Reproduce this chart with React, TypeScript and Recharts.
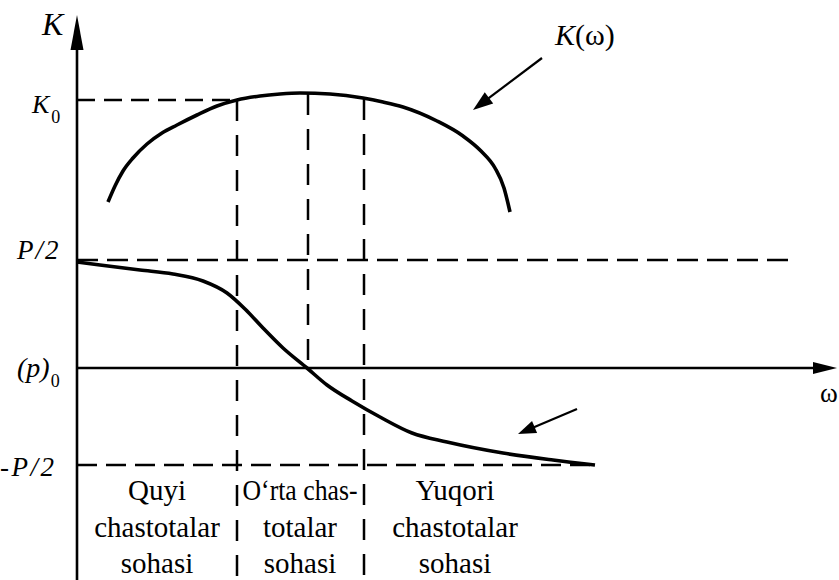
import React from "react";
import {
  ComposedChart,
  Line,
  XAxis,
  YAxis,
  ReferenceLine,
  ReferenceDot,
} from "recharts";

// Amplitude response K(ω), read along ω from the axis origin
const kCurve = [
  { w: 31, v: 166 }, { w: 38, v: 182 }, { w: 46, v: 197 }, { w: 56, v: 210 },
  { w: 70, v: 224 }, { w: 85, v: 235 }, { w: 100, v: 243 }, { w: 120, v: 253 },
  { w: 140, v: 262 }, { w: 160, v: 268 }, { w: 183, v: 272 }, { w: 203, v: 274 },
  { w: 223, v: 275 }, { w: 253, v: 274 }, { w: 286, v: 270 }, { w: 306, v: 266 },
  { w: 326, v: 261 }, { w: 360, v: 247 }, { w: 386, v: 232 }, { w: 404, v: 217 },
  { w: 418, v: 200 }, { w: 427, v: 180 }, { w: 433, v: 156 },
];

// Phase response, from P/2 down towards -P/2
const phaseCurve = [
  { w: 0, v: 106 }, { w: 23, v: 103 }, { w: 63, v: 98 }, { w: 96, v: 94 },
  { w: 126, v: 87 }, { w: 150, v: 75 }, { w: 168, v: 59 }, { w: 186, v: 40 },
  { w: 206, v: 20 }, { w: 230, v: 0 }, { w: 250, v: -17 }, { w: 275, v: -33 },
  { w: 303, v: -49 }, { w: 335, v: -65 }, { w: 370, v: -74 }, { w: 426, v: -85 },
  { w: 476, v: -92 }, { w: 518, v: -97 },
];

const K0 = 268;
const P_HALF = 108;
const NEG_P_HALF = -97;
const P_HALF_END = 711;

// Band edges on ω, plus the centre marker of the middle band
const bandEdges = [160, 287];
const bandEdgeTops = [268, 269];
const midMarker = 231;
const midMarkerTop = 274;

const bandLabels = [
  ["Quyi", "chastotalar", "sohasi"],
  ["O‘rta chas-", "totalar", "sohasi"],
  ["Yuqori", "chastotalar", "sohasi"],
];
const bandCenters = [80, 223, 378];
const bandRows = [-132, -169, -205];

const X_MIN = -77;
const X_MAX = 762;
const Y_MIN = -212;
const Y_MAX = 368;
const AXIS_W_END = 760;
const AXIS_K_END = 353;

// Pointer arrows: [from, to]
const kPointer = [{ x: 465, y: 310 }, { x: 396, y: 258 }];
const phasePointer = [{ x: 500, y: -41 }, { x: 441, y: -66 }];

const FONT = "'Liberation Serif', 'Times New Roman', Times, serif";
const CAPTION_SIZE = 29;

const arrowShape = (len: number, half: number, width: number) => (p: any) => {
  const { x1, y1, x2, y2 } = p;
  const dx = x2 - x1;
  const dy = y2 - y1;
  const d = Math.hypot(dx, dy) || 1;
  const ux = dx / d;
  const uy = dy / d;
  const bx = x2 - ux * len;
  const by = y2 - uy * len;
  const pts = `${x2},${y2} ${bx - uy * half},${by + ux * half} ${bx + uy * half},${by - ux * half}`;
  return (
    <g>
      <line x1={x1} y1={y1} x2={bx + ux * 2} y2={by + uy * 2} stroke="#000" strokeWidth={width} />
      <polygon points={pts} fill="#000" />
    </g>
  );
};

const dashShape = (dash: string) => (p: any) => (
  <line x1={p.x1} y1={p.y1} x2={p.x2} y2={p.y2} stroke="#000" strokeWidth={2.5} strokeDasharray={dash} />
);

type TextOpts = { italic?: boolean; anchor?: string; spacing?: number; fit?: number };

const textShape =
  (content: React.ReactNode, size: number, opts: TextOpts = {}) =>
  (p: any) =>
    (
      <text
        x={p.cx}
        y={p.cy}
        style={{
          fontFamily: FONT,
          fontSize: size,
          fontStyle: opts.italic ? "italic" : "normal",
          letterSpacing: opts.spacing ?? 0,
        }}
        textAnchor={opts.anchor ?? "start"}
        textLength={opts.fit}
        lengthAdjust={opts.fit ? "spacingAndGlyphs" : undefined}
        fill="#000"
      >
        {content}
      </text>
    );

// squeeze a caption that would spill over the middle band's edges
const captionFit = (text: string, band: number) => {
  if (band !== 1) return undefined;
  const room = bandEdges[1] - bandEdges[0] - 12;
  return text.length * 0.45 * CAPTION_SIZE > room ? room : undefined;
};

export default function App() {
  return (
    <div style={{ position: "fixed", left: 0, top: 0, background: "#fff", fontFamily: FONT }}>
      <ComposedChart
        width={839}
        height={580}
        margin={{ top: 0, right: 0, bottom: 0, left: 0 }}
        style={{ fontFamily: FONT }}
      >
        <XAxis dataKey="w" type="number" domain={[X_MIN, X_MAX]} allowDataOverflow hide />
        <YAxis type="number" domain={[Y_MIN, Y_MAX]} allowDataOverflow hide />

        {/* dashed guide levels */}
        <ReferenceLine segment={[{ x: 0, y: K0 }, { x: bandEdges[0], y: K0 }]} shape={dashShape("18 9")} />
        <ReferenceLine segment={[{ x: 0, y: P_HALF }, { x: P_HALF_END, y: P_HALF }]} shape={dashShape("21 9")} />
        <ReferenceLine
          segment={[{ x: 0, y: NEG_P_HALF }, { x: phaseCurve[phaseCurve.length - 1].w, y: NEG_P_HALF }]}
          shape={dashShape("20 9")}
        />
        {bandEdges.map((e, i) => (
          <ReferenceLine
            key={`edge-${i}`}
            segment={[{ x: e, y: bandEdgeTops[i] }, { x: e, y: Y_MIN }]}
            shape={dashShape("21 14")}
          />
        ))}
        <ReferenceLine segment={[{ x: midMarker, y: midMarkerTop }, { x: midMarker, y: -3 }]} shape={dashShape("21 14")} />

        {/* axes with arrowheads */}
        <ReferenceLine segment={[{ x: 0, y: 0 }, { x: AXIS_W_END, y: 0 }]} shape={arrowShape(24, 6, 2.6)} />
        <ReferenceLine segment={[{ x: 0, y: Y_MIN }, { x: 0, y: AXIS_K_END }]} shape={arrowShape(35, 6.5, 2.6)} />

        <Line data={kCurve} dataKey="v" type="monotone" stroke="#000" strokeWidth={3.6} dot={false} activeDot={false} isAnimationActive={false} />
        <Line data={phaseCurve} dataKey="v" type="monotone" stroke="#000" strokeWidth={3.6} dot={false} activeDot={false} isAnimationActive={false} />

        <ReferenceLine segment={kPointer} shape={arrowShape(20, 7, 2.2)} />
        <ReferenceLine segment={phasePointer} shape={arrowShape(18, 6.5, 2.2)} />

        {/* axis and level labels */}
        <ReferenceDot x={-35} y={333} shape={textShape("K", 32, { italic: true })} />
        <ReferenceDot
          x={-45}
          y={255}
          shape={textShape(
            <>
              K<tspan dx={2} dy={10} style={{ fontSize: 18, fontStyle: "normal" }}>0</tspan>
            </>,
            26,
            { italic: true }
          )}
        />
        <ReferenceDot x={-60} y={109} shape={textShape("P/2", 27, { italic: true, spacing: 2 })} />
        <ReferenceDot
          x={-60}
          y={-9}
          shape={textShape(
            <>
              (p)<tspan dx={1} dy={10} style={{ fontSize: 18, fontStyle: "normal" }}>0</tspan>
            </>,
            28,
            { italic: true }
          )}
        />
        <ReferenceDot x={-77} y={-108} shape={textShape("-P/2", 27, { italic: true, spacing: 2.5 })} />
        <ReferenceDot x={752} y={-34} shape={textShape("ω", 27, { anchor: "middle" })} />
        <ReferenceDot
          x={478}
          y={323}
          shape={textShape(
            <>
              <tspan style={{ fontStyle: "italic" }}>K</tspan>(ω)
            </>,
            30
          )}
        />

        {/* frequency band captions */}
        {bandLabels.map((rows, i) =>
          rows.map((t, j) => (
            <ReferenceDot
              key={`band-${i}-${j}`}
              x={bandCenters[i]}
              y={bandRows[j]}
              shape={textShape(t, CAPTION_SIZE, { anchor: "middle", fit: captionFit(t, i) })}
            />
          ))
        )}
      </ComposedChart>
    </div>
  );
}
